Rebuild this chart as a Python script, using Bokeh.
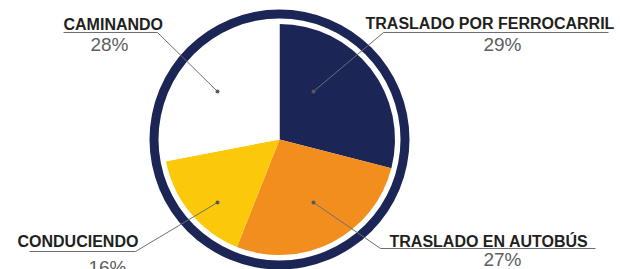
import math
from bokeh.plotting import figure
from bokeh.models import Range1d, ColumnDataSource
from bokeh.core.properties import value
from bokeh.embed import file_html
from bokeh.resources import INLINE

# ---- data ----
categories = ["TRASLADO POR FERROCARRIL", "TRASLADO EN AUTOBÚS", "CONDUCIENDO", "CAMINANDO"]
shares = [29, 27, 16, 28]
pct_labels = ["29%", "27%", "16%", "28%"]
colors = ["#1b2656", "#f28e1e", "#fcc80a", "#ffffff"]

# ---- layout (screen pixel coords, y measured from top) ----
W, H = 620, 269
cx, cy = 279, 139
pie_r = 115.5
ring_inner, ring_outer = 121, 130
TXT_SHIFT = 5

def Y(s):
    return H - s

# (label left x, label baseline, line x0, line x1, line y, dot x, dot y, pct center x, pct baseline)
layout = [
    (365, 28, 608, 383, 32, 313, 91, 502, 49),
    (389, 246, 595, 380, 248, 313, 202, 502, 264),
    (17, 246, 29, 135, 251, 217, 202, 107, 272),
    (63, 29, 63, 157, 32, 217, 91, 109, 49),
]

p = figure(width=W, height=H, output_backend="svg", toolbar_location=None,
           x_range=Range1d(0, W), y_range=Range1d(0, H),
           min_border=0, outline_line_color=None)
p.axis.visible = False
p.grid.visible = False
p.background_fill_color = "white"
p.border_fill_color = "white"

# ring
p.annulus(x=[cx], y=[Y(cy)], inner_radius=ring_inner, outer_radius=ring_outer,
          inner_radius_units="screen", outer_radius_units="screen",
          fill_color="#1b2656", line_color=None)

# wedges
total = sum(shares)
starts, ends = [], []
acc = 0
for s in shares:
    starts.append(math.pi / 2 - 2 * math.pi * acc / total)
    acc += s
    ends.append(math.pi / 2 - 2 * math.pi * acc / total)
src = ColumnDataSource(dict(start=starts, end=ends, color=colors,
                            x=[cx] * len(shares), y=[Y(cy)] * len(shares)))
p.wedge(x="x", y="y", radius=pie_r, radius_units="screen", start_angle="start", end_angle="end",
        direction="clock", fill_color="color", line_color=None, source=src)

# leader lines, dots, texts
for (cat, pct, lay) in zip(categories, pct_labels, layout):
    lx, lb, x0, x1, ly, dx, dy, px, pb = lay
    p.line([x0, x1], [Y(ly), Y(ly)], line_color="#6d6e71", line_width=1.2)
    p.line([x1, dx], [Y(ly), Y(dy)], line_color="#6d6e71", line_width=1)
    p.scatter([dx], [Y(dy)], size=4, marker="circle", fill_color="#58595b", line_color=None)
    p.text([lx], [Y(lb - TXT_SHIFT)], text=[cat], text_font=value("Liberation Sans"), text_font_style="bold",
           text_font_size="16px", text_color="#231f20", text_align="left", text_baseline="alphabetic")
    p.text([px], [Y(pb - TXT_SHIFT)], text=[pct], text_font=value("Liberation Sans"),
           text_font_size="19px", text_color="#5d5e60", text_align="center", text_baseline="alphabetic")

open("out.html", "w").write(file_html(p, INLINE))
